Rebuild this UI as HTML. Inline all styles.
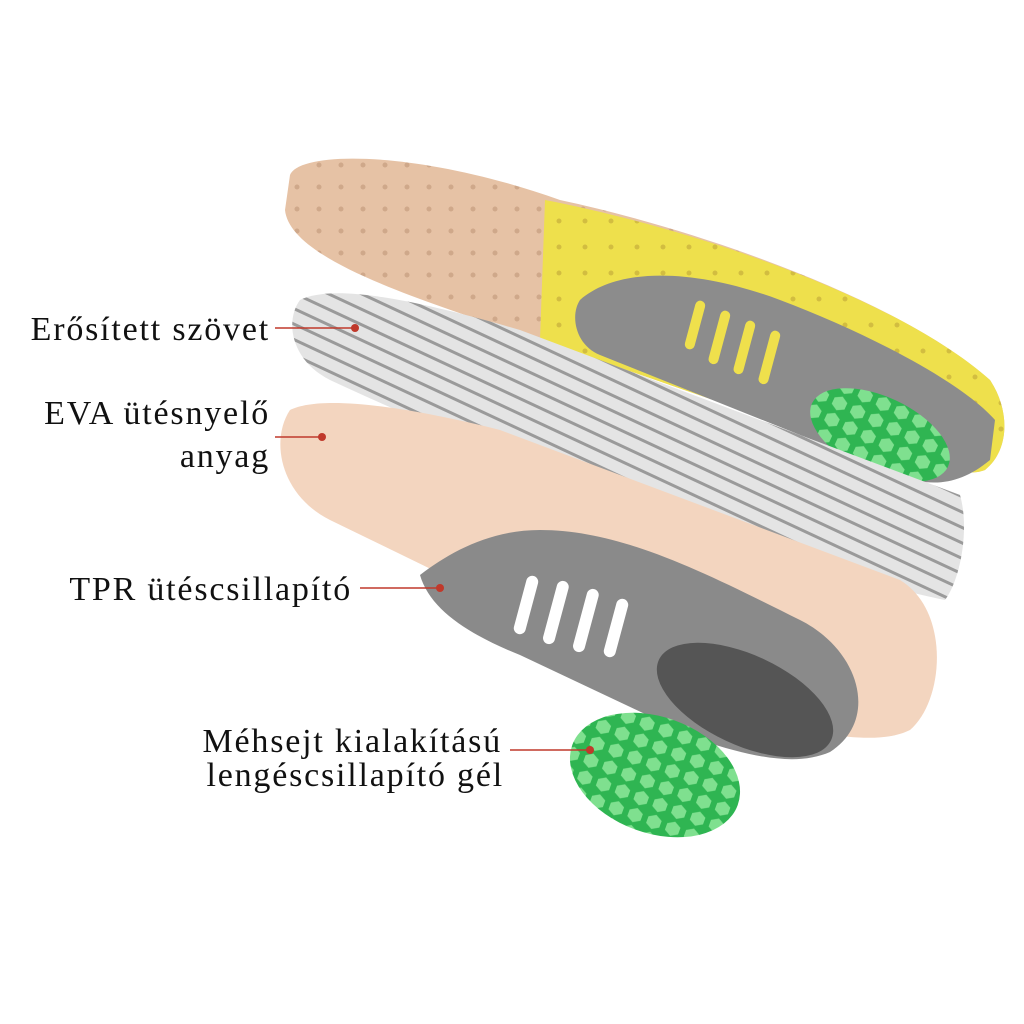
<!DOCTYPE html>
<html><head><meta charset="utf-8"><style>
html,body{margin:0;padding:0;background:#fff}
svg{display:block}
text{font-family:"Liberation Serif",serif;font-size:34px;letter-spacing:1.8px;fill:#111}
</style></head><body>
<svg width="1024" height="1024" viewBox="0 0 1024 1024" xmlns="http://www.w3.org/2000/svg">
<defs>
<pattern id="stripe" width="14" height="14" patternUnits="userSpaceOnUse" patternTransform="rotate(25)">
<rect width="14" height="14" fill="#e4e4e4"/><rect width="14" height="3" fill="#9a9a9a"/></pattern>
<pattern id="dots" width="22" height="22" patternUnits="userSpaceOnUse">
<rect width="22" height="22" fill="#e6c2a5"/><circle cx="11" cy="11" r="2.5" fill="#cfa88a"/></pattern>
<pattern id="ydots" width="26" height="26" patternUnits="userSpaceOnUse">
<rect width="26" height="26" fill="#eee04c"/><circle cx="13" cy="13" r="2.5" fill="#d2bd40"/></pattern>
<pattern id="hex" width="20" height="18" patternUnits="userSpaceOnUse">
<rect width="20" height="18" fill="#2fb552"/><polygon points="10,2 17,6 17,13 10,17 3,13 3,6" fill="#7fe08f"/></pattern>
</defs>
<path d="M290 175 C300 150,420 150,560 200 C700 230,900 300,990 380 C1010 410,1010 450,985 470 C960 480,900 460,800 430 L540 340 C420 300,290 260,285 210 Z" fill="url(#dots)"/>
<path d="M545 200 C700 230,900 300,990 380 C1010 410,1010 450,985 470 C960 480,900 460,800 430 L540 340 Z" fill="url(#ydots)"/>
<path d="M580 300 C620 265,700 270,780 300 C860 330,960 380,995 420 L990 460 C960 485,930 488,900 475 L600 355 C575 345,570 315,580 300 Z" fill="#8c8c8c"/>
<ellipse cx="880" cy="435" rx="75" ry="38" transform="rotate(25 880 435)" fill="url(#hex)"/>
<g fill="#efe04c">
<rect x="690" y="300" width="10" height="50" rx="5" transform="rotate(15 695 325)"/>
<rect x="715" y="310" width="10" height="55" rx="5" transform="rotate(15 720 335)"/>
<rect x="740" y="320" width="10" height="55" rx="5" transform="rotate(15 745 345)"/>
<rect x="765" y="330" width="10" height="55" rx="5" transform="rotate(15 770 355)"/>
</g>
<path d="M300 300 C330 285,400 295,520 330 L960 495 C970 530,960 580,945 600 C800 570,500 460,330 380 C290 360,285 320,300 300 Z" fill="url(#stripe)"/>
<path d="M290 410 C320 395,400 405,500 430 L900 580 C950 610,945 700,910 730 C880 745,820 740,700 700 L330 520 C280 495,270 440,290 410 Z" fill="#f3d5bf"/>
<path d="M420 575 C450 552,490 530,540 530 C620 530,700 570,800 620 C860 650,880 720,830 752 C800 765,760 760,700 740 L520 655 C470 635,430 610,420 575 Z" fill="#8a8a8a"/>
<ellipse cx="745" cy="700" rx="95" ry="45" transform="rotate(25 745 700)" fill="#555"/>
<g fill="#fff">
<rect x="520" y="575" width="12" height="60" rx="6" transform="rotate(15 526 605)"/>
<rect x="550" y="580" width="12" height="65" rx="6" transform="rotate(15 556 612)"/>
<rect x="580" y="588" width="12" height="65" rx="6" transform="rotate(15 586 620)"/>
<rect x="610" y="598" width="12" height="60" rx="6" transform="rotate(15 616 628)"/>
</g>
<ellipse cx="655" cy="775" rx="88" ry="58" transform="rotate(20 655 775)" fill="url(#hex)"/>
<text x="270" y="340" text-anchor="end">Erősített szövet</text>
<line x1="275" y1="328" x2="355" y2="328" stroke="#c0392b" stroke-width="1.5"/><circle cx="355" cy="328" r="4" fill="#c0392b"/>
<text x="270" y="424" text-anchor="end">EVA ütésnyelő</text>
<text x="270" y="467" text-anchor="end">anyag</text>
<line x1="275" y1="437" x2="322" y2="437" stroke="#c0392b" stroke-width="1.5"/><circle cx="322" cy="437" r="4" fill="#c0392b"/>
<text x="352" y="600" text-anchor="end">TPR ütéscsillapító</text>
<line x1="360" y1="588" x2="440" y2="588" stroke="#c0392b" stroke-width="1.5"/><circle cx="440" cy="588" r="4" fill="#c0392b"/>
<text x="502" y="752" text-anchor="end">Méhsejt kialakítású</text>
<text x="504" y="786" text-anchor="end">lengéscsillapító gél</text>
<line x1="510" y1="750" x2="590" y2="750" stroke="#c0392b" stroke-width="1.5"/><circle cx="590" cy="750" r="4" fill="#c0392b"/>
</svg>
</body></html>
